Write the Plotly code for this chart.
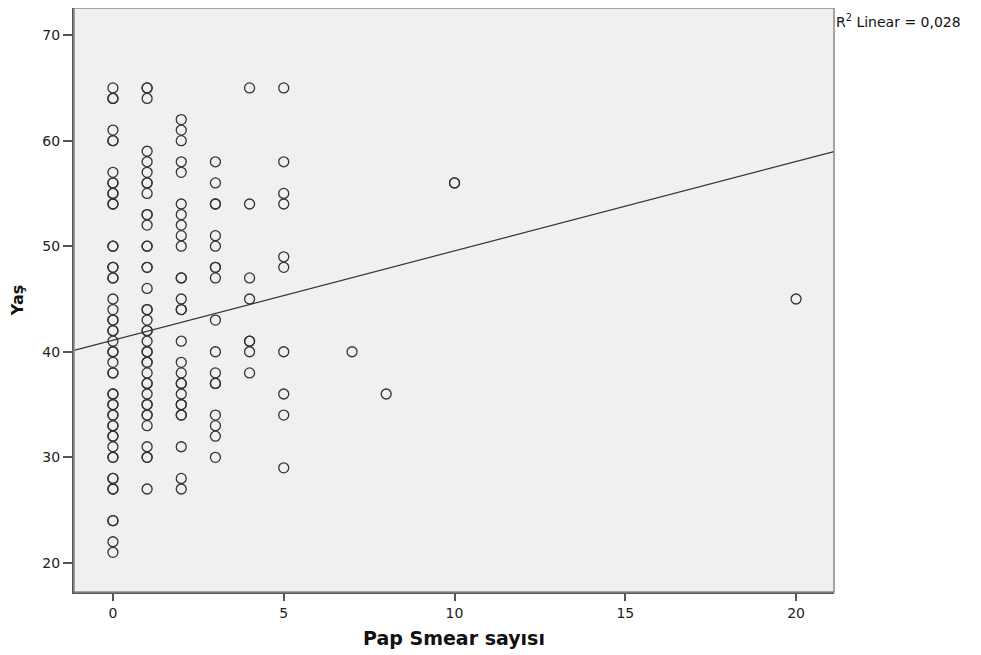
import numpy as np
import plotly.graph_objects as go

# Age values (Yaş) observed for each Pap smear count (repeated values = overlapping points)
ages_0 = [65, 64, 64, 61, 60, 60, 57, 56, 56, 55, 55, 54, 54, 50, 50, 48, 48, 47, 47, 45, 44,
          43, 43, 42, 42, 41, 40, 40, 39, 38, 38, 36, 36, 35, 35, 34, 34, 33, 33, 32, 32, 31,
          30, 30, 28, 28, 27, 27, 24, 24, 22, 21]
ages_1 = [65, 65, 64, 59, 58, 57, 56, 56, 55, 53, 53, 52, 50, 50, 48, 48, 46, 44, 44, 43, 42, 42,
          41, 40, 40, 39, 39, 38, 37, 37, 36, 35, 35, 34, 34, 33, 31, 30, 30, 27]
ages_2 = [62, 61, 60, 58, 57, 54, 53, 52, 51, 50, 47, 47, 45, 44, 44, 41, 39, 38, 37, 37, 36,
          35, 35, 34, 34, 31, 28, 27]
ages_3 = [58, 56, 54, 54, 51, 50, 48, 48, 47, 43, 40, 38, 37, 37, 34, 33, 32, 30]
ages_4 = [65, 54, 47, 45, 41, 41, 40, 38]
ages_5 = [65, 58, 55, 54, 49, 48, 40, 36, 34, 29]
ages_7 = [40]
ages_8 = [36]
ages_10 = [56, 56]
ages_20 = [45]

groups = {0: ages_0, 1: ages_1, 2: ages_2, 3: ages_3, 4: ages_4, 5: ages_5,
          7: ages_7, 8: ages_8, 10: ages_10, 20: ages_20}

# Linear fit line as reported on the chart
fit_intercept = 41.1
fit_slope = 0.846
r2_label = "R<sup>2</sup> Linear = 0,028"

x_ticks = [0, 5, 10, 15, 20]
y_ticks = [20, 30, 40, 50, 60, 70]

xs = np.array([k for k, v in groups.items() for _ in v], dtype=float)
ys = np.array([a for v in groups.values() for a in v], dtype=float)

x_range = [-1.14, 21.11]
y_range = [17.24, 72.57]

line_x = np.array(x_range)
line_y = fit_intercept + fit_slope * line_x

FONT = "DejaVu Sans, Liberation Sans, Arial, sans-serif"

fig = go.Figure()
fig.add_trace(go.Scatter(
    x=xs, y=ys, mode="markers",
    marker=dict(symbol="circle-open", size=10, color="#333333", line=dict(width=1.3)),
    showlegend=False, hoverinfo="x+y"))
fig.add_trace(go.Scatter(
    x=line_x, y=line_y, mode="lines",
    line=dict(color="#333333", width=1.2), showlegend=False, hoverinfo="skip"))

axis_font = dict(family=FONT, size=14, color="#222222")
fig.update_xaxes(range=x_range, tickvals=x_ticks, showgrid=False, zeroline=False,
                 showline=True, linecolor="#555555", linewidth=2, ticks="outside",
                 ticklen=7, tickwidth=2, tickcolor="#555555", tickfont=axis_font,
                 title=dict(text="<b>Pap Smear sayısı</b>", font=dict(family=FONT, size=19, color="#111111"), standoff=12))
fig.update_yaxes(range=y_range, tickvals=y_ticks, showgrid=False, zeroline=False,
                 showline=True, linecolor="#555555", linewidth=2, ticks="outside",
                 ticklen=9, tickwidth=2, tickcolor="#555555", tickfont=axis_font,
                 title=dict(text="<b>Yaş</b>", font=dict(family=FONT, size=16, color="#111111"), standoff=16))

fig.add_shape(type="rect", xref="paper", yref="paper", x0=0, y0=0, x1=1, y1=1,
              line=dict(color="#888888", width=1.5), layer="above")

fig.add_annotation(x=1, y=1, xref="paper", yref="paper", xanchor="left", yanchor="top",
                   xshift=0, yshift=-2, showarrow=False, text=r2_label,
                   font=dict(family=FONT, size=14, color="#111111"))

fig.update_layout(width=981, height=655, plot_bgcolor="#f0f0f0", paper_bgcolor="#ffffff",
                  margin=dict(l=66, r=155, t=0, b=71))

fig.write_html("out.html")
